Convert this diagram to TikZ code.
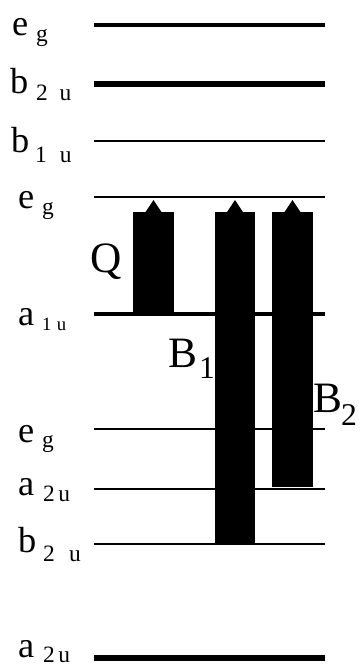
\documentclass[tikz,border=0pt]{standalone}
\usepackage{fontspec}
\setmainfont{Liberation Serif}
\usetikzlibrary{positioning,calc}

\begin{document}
\begin{tikzpicture}[x=0.03cm,y=-0.03cm]
	\tikzstyle{orb}=[inner sep=0pt,anchor=base west,font=\fontsize{31}{31}\selectfont]
	\tikzstyle{irr}=[inner sep=0pt,anchor=base west]
	\tikzstyle{band}=[inner sep=0pt,anchor=base west,font=\fontsize{37}{37}\selectfont]
	\tikzstyle{bandsub}=[inner sep=0pt,anchor=base west,font=\fontsize{27}{27}\selectfont]
	\useasboundingbox (0,0) rectangle (359,666);
	% orbital levels: name/y/width/letter/x/y/subscript/x/y/size
	\foreach \n/\y/\w/\m/\mx/\my/\s/\sx/\sy/\sz in {
		eg4/25/3.4/e/12/35/g/36/41/20,
		b2u2/84/4.3/b/10/93/{2\hspace{10pt}u}/36/100/20,
		b1u/141/1.8/b/11/152/{1\hspace{11pt}u}/35/162/20,
		eg3/197/2.1/e/18/208/g/42/214/20,
		a1u/314/2.6/a/18/325/{1\hspace{4.5pt}u}/42/330/16,
		eg2/429/2.1/e/18/442/g/42/447/20,
		a2u2/489/2.3/a/18/495/{2\hspace{3pt}u}/43/501/20,
		b2u1/544/2.3/b/18/552/{2\hspace{12pt}u}/43/561/20,
		a2u1/658/4.3/a/18/657/{2\hspace{3pt}u}/43/662/20}
	{
		\coordinate (\n-l) at (94,\y);
		\coordinate (\n-r) at (325,\y);
		\draw[line width=\w pt] (\n-l) -- (\n-r);
		\node[orb] (\n-m) at (\mx,\my) {\m};
		\node[irr] (\n-s) at (\sx,\sy) {\fontsize{\sz pt}{\sz pt}\selectfont\s};
	}
	% transitions
	\foreach \n/\a/\b/\y in {Q/133/174/314, B1/215/255/544, B2/272/313/487}
	{
		\coordinate (\n-bot) at (\a,\y);
		\coordinate (\n-top) at (\b,212);
		\fill (\n-bot) rectangle (\n-top);
		\fill ($(\n-top)+({-(\b-\a)/2-8},0)$) -- ++(8,-12) -- ++(8,12) -- cycle;
	}
	\node[band] (Q) at (90,272) {Q};
	\node[band] (B1) at (168,367) {B};
	\node[bandsub] (B1-s) at (199,378) {1};
	\node[band] (B2) at (313,412) {B};
	\node[bandsub] (B2-s) at (341,425) {2};
\end{tikzpicture}
\end{document}
